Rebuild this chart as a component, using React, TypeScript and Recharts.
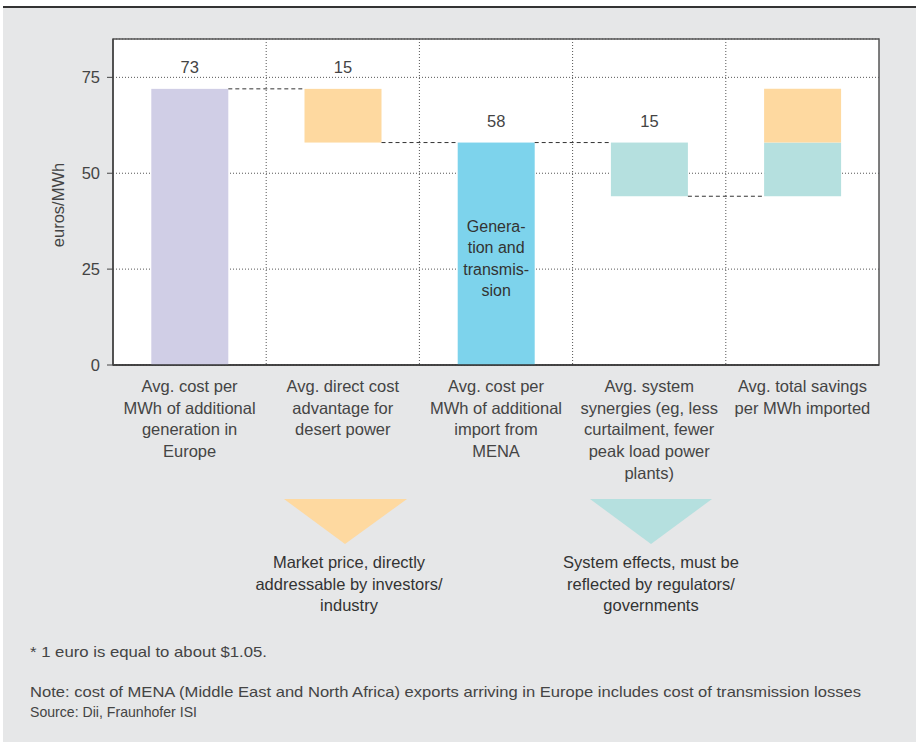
import { BarChart, Bar, XAxis, YAxis, CartesianGrid, Cell, LabelList, ReferenceArea } from 'recharts';

// chart values
const categories = [
  'Avg. cost per\nMWh of additional\ngeneration in\nEurope',
  'Avg. direct cost\nadvantage for\ndesert power',
  'Avg. cost per\nMWh of additional\nimport from\nMENA',
  'Avg. system\nsynergies (eg, less\ncurtailment, fewer\npeak load power\nplants)',
  'Avg. total savings\nper MWh imported',
];
const baseValues = [0, 58, 0, 44, 44];
const lowerValues = [72, 14, 58, 14, 14];
const upperValues = [0, 0, 0, 0, 14];
const valueLabels = ['73', '15', '58', '15', '30'];
const barNotes = ['', '', 'Genera-\ntion and\ntransmis-\nsion', '', ''];
// where the dashed step line leaves each bar
const links = ['top', 'bottom', 'top', 'bottom', null];
const yTicks = [0, 25, 50, 75];

const lowerColors = ['#d0cee6', '#fed9a0', '#7dd3ec', '#b5e0df', '#b5e0df'];
const upperColor = '#fed9a0';
const textColor = '#444';
const FONT = '"Liberation Sans", Arial, Helvetica, sans-serif';

const data = categories.map((name, i) => ({
  name,
  base: baseValues[i],
  lower: lowerValues[i],
  upper: upperValues[i],
}));

const CategoryTick = ({ x, y, payload }: any) => {
  const lines = String(payload.value).split('\n');
  return (
    <text x={x} y={y} textAnchor="middle" fill={textColor} fontSize={16.5} fontFamily={FONT}>
      {lines.map((l, i) => (
        <tspan key={i} x={x} dy={i === 0 ? 27 : 21.7}>{l}</tspan>
      ))}
    </text>
  );
};

const LowerShape = (props: any) => {
  const { x, y, width, height, index } = props;
  const link = links[index];
  const ly = link === 'top' ? y : link === 'bottom' ? y + height : null;
  const note = barNotes[index];
  const noteLines = note ? note.split('\n') : [];
  const midY = y + height / 2 + 4 - ((noteLines.length - 1) * 21.5) / 2;
  return (
    <g>
      <rect x={x} y={y} width={width} height={height} fill={lowerColors[index]} />
      {ly !== null && (
        <line x1={x + width} x2={x + 2 * width} y1={ly} y2={ly} stroke="#333" strokeWidth={1} strokeDasharray="4 3" />
      )}
      {noteLines.length > 0 && (
        <text x={x + width / 2} y={midY} textAnchor="middle" dominantBaseline="central" fill="#333" fontSize={16} fontFamily={FONT}>
          {noteLines.map((l, i) => (
            <tspan key={i} x={x + width / 2} dy={i === 0 ? 0 : 21.5}>{l}</tspan>
          ))}
        </text>
      )}
    </g>
  );
};

const topLabel = (which: 'lower' | 'upper') => (p: any) => {
  const { x, y, width, index } = p;
  const show = which === 'upper' ? upperValues[index] > 0 : upperValues[index] === 0;
  if (!show) return null;
  return (
    <text x={x + width / 2} y={y - 16} textAnchor="middle" fill={textColor} fontSize={16.5} fontFamily={FONT}>
      {valueLabels[index]}
    </text>
  );
};

const YLabel = ({ viewBox }: any) => {
  const cx = 58;
  const cy = viewBox.y + viewBox.height / 2 + 3;
  return (
    <text x={cx} y={cy} transform={`rotate(-90 ${cx} ${cy})`} textAnchor="middle" dominantBaseline="central" fill={textColor} fontSize={16.5} fontFamily={FONT}>
      euros/MWh
    </text>
  );
};

export default function App() {
  return (
    <div style={{ position: 'absolute', left: 0, top: 0, width: 916, height: 742, background: '#fff', fontFamily: FONT }}>
      <div style={{ position: 'absolute', left: 3, top: 6, width: 913, height: 2, background: '#333' }} />
      <div style={{ position: 'absolute', left: 3, top: 8, width: 913, height: 734, background: '#e6e7e8' }} />
      <div style={{ position: 'absolute', left: 0, top: 0 }}>
        <BarChart
          width={916}
          height={500}
          data={data}
          margin={{ top: 39, right: 37, left: 53, bottom: 25 }}
          barCategoryGap="25%"
        >
          <CartesianGrid
            fill="#fff"
            stroke="#555"
            strokeDasharray="1 2"
            verticalCoordinatesGenerator={({ offset }: any) =>
              [1, 2, 3, 4].map((i) => offset.left + (offset.width * i) / 5)
            }
          />
          <ReferenceArea y1={0} y2={85} fill="none" stroke="#555" strokeWidth={1.5} />
          <XAxis
            dataKey="name"
            height={110}
            interval={0}
            tickLine={false}
            tickSize={0}
            tickMargin={0}
            axisLine={{ stroke: '#333', strokeWidth: 1.5 }}
            tick={<CategoryTick />}
          />
          <YAxis
            width={60}
            type="number"
            domain={[0, 85]}
            ticks={yTicks}
            tickSize={6}
            tickMargin={7}
            axisLine={{ stroke: '#444', strokeWidth: 1.5 }}
            tickLine={{ stroke: '#444' }}
            tick={{ fill: textColor, fontSize: 16.5, fontFamily: FONT }}
            label={<YLabel />}
          />
          <Bar dataKey="base" stackId="s" fill="transparent" isAnimationActive={false} />
          <Bar dataKey="lower" stackId="s" shape={<LowerShape />} isAnimationActive={false}>
            {data.map((_, i) => (
              <Cell key={i} fill={lowerColors[i]} />
            ))}
            <LabelList content={topLabel('lower')} />
          </Bar>
          <Bar dataKey="upper" stackId="s" fill={upperColor} isAnimationActive={false}>
            <LabelList content={topLabel('upper')} />
          </Bar>
        </BarChart>
      </div>
      <svg width={916} height={742} style={{ position: 'absolute', left: 0, top: 0, pointerEvents: 'none' }}>
        <polygon points="284,499 407,499 345,544" fill="#fed9a0" />
        <polygon points="590,499 712,499 651,544" fill="#b5e0df" />
        <g fontFamily={FONT} fontSize={16.5} fill="#333" textAnchor="middle">
          <text x={349} y={568}>Market price, directly</text>
          <text x={349} y={590}>addressable by investors/</text>
          <text x={349} y={611}>industry</text>
          <text x={651} y={568}>System effects, must be</text>
          <text x={651} y={590}>reflected by regulators/</text>
          <text x={651} y={611}>governments</text>
        </g>
        <g fontFamily='"Liberation Sans Narrow", "Liberation Sans", Arial, sans-serif' fontSize={14.5} fill={textColor}>
          <text x={30} y={657} textLength={237} lengthAdjust="spacingAndGlyphs">* 1 euro is equal to about $1.05.</text>
          <text x={30} y={697} textLength={831} lengthAdjust="spacingAndGlyphs">
            Note: cost of MENA (Middle East and North Africa) exports arriving in Europe includes cost of transmission losses
          </text>
          <text x={30} y={717} textLength={167} lengthAdjust="spacingAndGlyphs">Source: Dii, Fraunhofer ISI</text>
        </g>
      </svg>
    </div>
  );
}
